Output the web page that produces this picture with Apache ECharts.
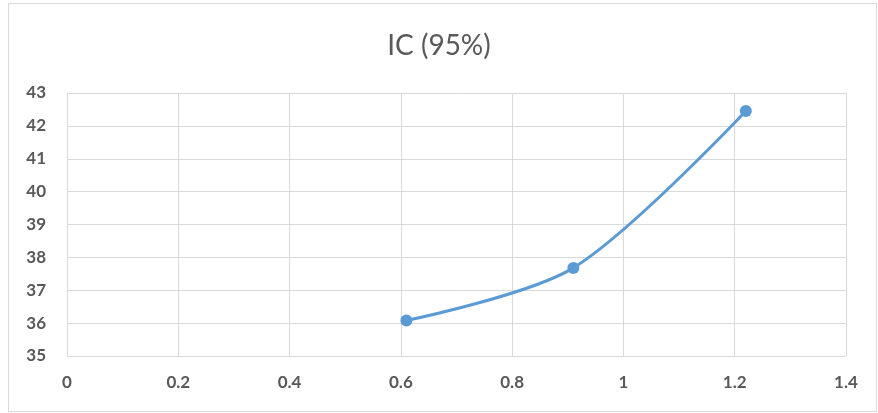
<!DOCTYPE html>
<html><head><meta charset="utf-8">
<script src="https://cdn.jsdelivr.net/npm/echarts@6/dist/echarts.min.js"></script>
<style>html,body{margin:0;padding:0;background:#fff}#c{width:878px;height:413px}</style>
</head><body><div id="c"></div>
<script>
const titleText = 'IC (95%)';
const xValues = [0.61, 0.91, 1.22];
const yValues = [36.08, 37.68, 42.45];
const xTicks = [0, 0.2, 0.4, 0.6, 0.8, 1, 1.2, 1.4];
const yTicks = [35, 36, 37, 38, 39, 40, 41, 42, 43];

const chart = echarts.init(document.getElementById('c'));
const font = 'Lato, "Open Sans", sans-serif';
chart.setOption({
  animation: false,
  title: {text: titleText, left: 'center', top: 27, itemGap: 0, textStyle: {fontFamily: font, fontSize: 28, fontWeight: 'normal', color: '#595959'}},
  graphic: [{type: 'rect', shape: {x: 8.5, y: 3.5, width: 868, height: 408}, style: {fill: 'none', stroke: '#d9d9d9', lineWidth: 1}, silent: true}],
  grid: {left: 67, right: 32, top: 93, bottom: 57},
  xAxis: {type: 'value', min: xTicks[0], max: xTicks[xTicks.length-1], interval: 0.2,
    axisLine: {show: false}, axisTick: {show: false},
    splitLine: {show: true, lineStyle: {color: '#d9d9d9', width: 1}},
    axisLabel: {fontFamily: font, fontSize: 17, fontWeight: 'bold', color: '#595959', margin: 18}},
  yAxis: {type: 'value', min: yTicks[0], max: yTicks[yTicks.length-1], interval: 1,
    axisLine: {show: false}, axisTick: {show: false},
    splitLine: {show: true, lineStyle: {color: '#d9d9d9', width: 1}},
    axisLabel: {fontFamily: font, fontSize: 17, fontWeight: 'bold', color: '#595959', margin: 21}},
  series: [{type: 'line', smooth: 0.3, data: xValues.map((x, i) => [x, yValues[i]]),
    symbol: 'circle', symbolSize: 12, lineStyle: {color: '#5b9bd5', width: 3},
    itemStyle: {color: '#5b9bd5'}}]
});
</script></body></html>
